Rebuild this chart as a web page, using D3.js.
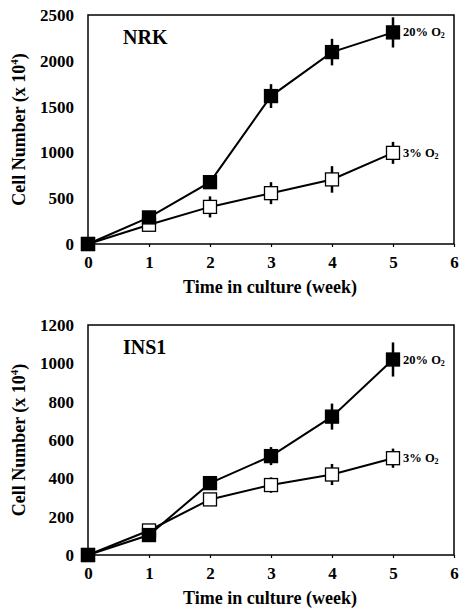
<!DOCTYPE html>
<html><head><meta charset="utf-8">
<script src="https://cdn.jsdelivr.net/npm/d3@7"></script>
<style>body{margin:0;background:#fff}svg{display:block}svg text{font-family:"Liberation Serif","Times New Roman",serif !important}</style>
</head><body>
<script>
const weeks = [0, 1, 2, 3, 4, 5];
const xTicks = [0, 1, 2, 3, 4, 5, 6];
// NRK
const nrkHigh = [0, 290, 675, 1615, 2095, 2310];
const nrkHighErr = [0, 40, 40, 130, 145, 165];
const nrkLow = [0, 210, 405, 555, 705, 995];
const nrkLowErr = [0, 40, 115, 120, 145, 120];
const nrkTicks = [0, 500, 1000, 1500, 2000, 2500];
// INS1
const insHigh = [0, 104, 375, 516, 722, 1020];
const insHighErr = [0, 15, 20, 47, 68, 89];
const insLow = [0, 128, 290, 365, 420, 505];
const insLowErr = [0, 15, 15, 40, 55, 50];
const insTicks = [0, 200, 400, 600, 800, 1000, 1200];

const panels = [
  {name: "NRK", top: 15, bottom: 244, max: 2500, ticks: nrkTicks, high: nrkHigh, highErr: nrkHighErr, low: nrkLow, lowErr: nrkLowErr},
  {name: "INS1", top: 325, bottom: 555, max: 1200, ticks: insTicks, high: insHigh, highErr: insHighErr, low: insLow, lowErr: insLowErr}
];

const svg = d3.select("body").append("svg").attr("width", 462).attr("height", 610);
const left = 88, right = 454;
const x = d3.scaleLinear().domain([0, 6]).range([left, right]);

panels.forEach(p => {
  const y = d3.scaleLinear().domain([0, p.max]).range([p.bottom, p.top]);
  const g = svg.append("g");
  g.append("rect").attr("x", left).attr("y", p.top).attr("width", right - left).attr("height", p.bottom - p.top)
    .attr("fill", "none").attr("stroke", "#000").attr("stroke-width", 1.5);
  const xa = g.append("g").attr("transform", `translate(0,${p.bottom})`)
    .call(d3.axisBottom(x).tickValues(xTicks).tickSize(3).tickFormat(d3.format("d")));
  xa.select(".domain").remove();
  xa.selectAll("line").attr("stroke", "#000").attr("stroke-width", 1.2);
  xa.selectAll("text").attr("font-weight", "bold").attr("font-size", 17).attr("fill", "#000").attr("dy", "1.05em");
  const ya = g.append("g").attr("transform", `translate(${left},0)`)
    .call(d3.axisLeft(y).tickValues(p.ticks).tickSize(0).tickPadding(14).tickFormat(d3.format("d")));
  ya.select(".domain").remove();
  ya.selectAll("text").attr("font-weight", "bold").attr("font-size", 17).attr("fill", "#000");
  g.append("text").attr("x", 270).attr("y", p.bottom + 49).attr("text-anchor", "middle")
    .attr("font-weight", "bold").attr("font-size", 18).text("Time in culture (week)");
  const yt = g.append("text").attr("transform", `translate(25,${(p.top + p.bottom) / 2}) rotate(-90)`)
    .attr("text-anchor", "middle").attr("font-weight", "bold").attr("font-size", 18);
  yt.append("tspan").text("Cell Number (x 10");
  yt.append("tspan").attr("font-size", 11).attr("dy", -7).text("4");
  yt.append("tspan").attr("dy", 7).text(")");
  g.append("text").attr("x", 123).attr("y", p.top + 29).attr("font-weight", "bold")
    .attr("font-size", 20).text(p.name);

  const line = d3.line().x((d, i) => x(weeks[i])).y(d => y(d));
  const series = [
    {vals: p.low, err: p.lowErr, fill: "#fff", label: "3% O"},
    {vals: p.high, err: p.highErr, fill: "#000", label: "20% O"}
  ];
  series.forEach(s => {
    g.append("path").datum(s.vals).attr("d", line).attr("fill", "none").attr("stroke", "#000").attr("stroke-width", 2);
  });
  series.forEach(s => {
    g.selectAll(null).data(s.vals).enter().append("line")
      .attr("x1", (d, i) => x(weeks[i])).attr("x2", (d, i) => x(weeks[i]))
      .attr("y1", (d, i) => y(d + s.err[i])).attr("y2", (d, i) => y(d - s.err[i]))
      .attr("stroke", "#000").attr("stroke-width", 2.5);
    g.selectAll(null).data(s.vals).enter().append("rect")
      .attr("x", (d, i) => x(weeks[i]) - 6.5).attr("y", d => y(d) - 6.5)
      .attr("width", 13).attr("height", 13).attr("fill", s.fill).attr("stroke", "#000").attr("stroke-width", 1.3);
    const last = s.vals[s.vals.length - 1];
    const t = g.append("text").attr("x", x(5) + 10).attr("y", y(last) + 4)
      .attr("font-size", 12.5).attr("font-weight", 600).text(s.label);
    t.append("tspan").attr("font-size", 8).attr("dy", 2).text("2");
  });
});
</script>
</body></html>
